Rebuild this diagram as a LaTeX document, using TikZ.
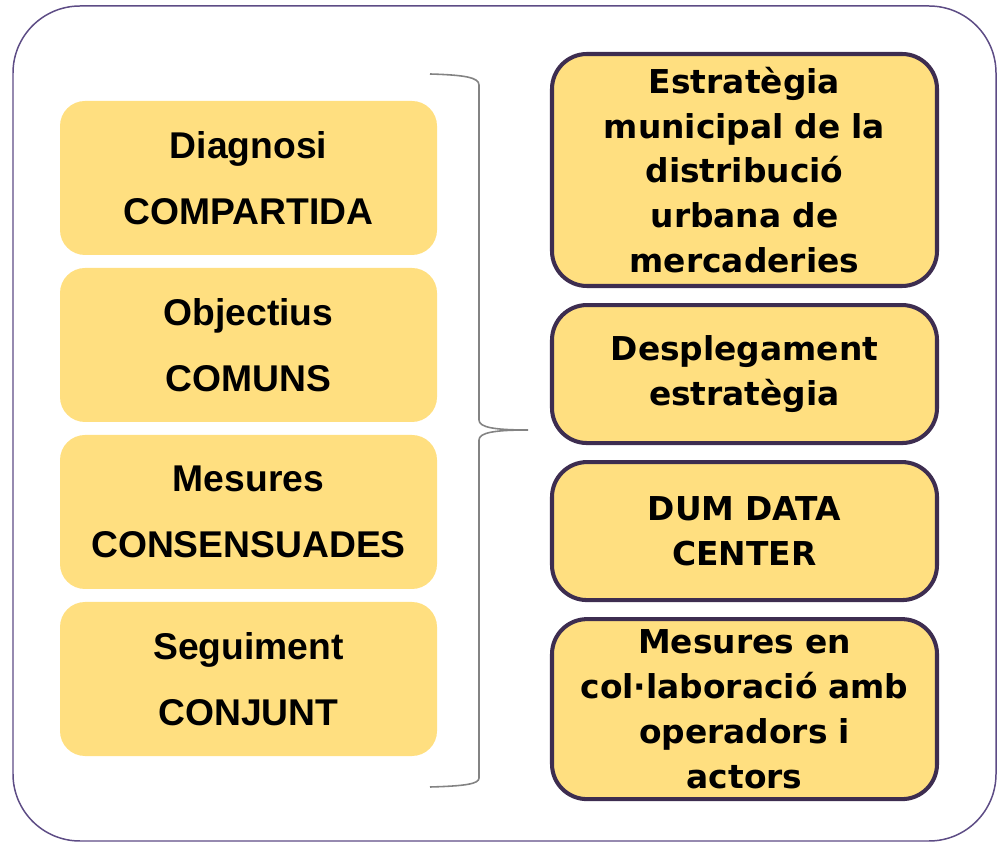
\documentclass[tikz,border=0pt]{standalone}
\usepackage{fontspec}
\setmainfont{Liberation Sans}
\newfontfamily\boxfont{DejaVu Sans}
\usetikzlibrary{positioning}
\definecolor{boxyellow}{HTML}{FFDF80}
\definecolor{boxedge}{HTML}{3D2D50}
\definecolor{framepurple}{HTML}{5D4C85}
\definecolor{bracegray}{HTML}{838383}
\tikzstyle{leftblock} = [rectangle, fill=boxyellow, rounded corners=0.5cm, text width=7.2cm, align=center, minimum width=7.54cm, minimum height=3.08cm, font=\bfseries\fontsize{21.2}{37.4}\selectfont]
\tikzstyle{rightblock} = [rectangle, draw=boxedge, line width=2.3pt, fill=boxyellow, rounded corners=0.7cm, text width=7.3cm, align=center, minimum width=7.70cm, font=\boxfont\bfseries\fontsize{18.7}{25.5}\selectfont]
\tikzstyle{brace} = [draw=bracegray, line width=0.9pt]

\begin{document}
\begin{tikzpicture}[node distance=3.34cm]
	\useasboundingbox (0,0) rectangle (20,-16.84);
	\draw [framepurple, line width=0.85pt, rounded corners=1.34cm] (0.26,-0.12) rectangle (19.92,-16.82);
	% left column
	\node [leftblock] at (4.97,-3.56) (diag) {Diagnosi\\COMPARTIDA};
	\node [leftblock, below of=diag] (obj) {Objectius\\COMUNS};
	\node [leftblock, below of=obj] (mes) {Mesures\\CONSENSUADES};
	\node [leftblock, below of=mes] (seg) {Seguiment\\CONJUNT};
	% right column
	\node [rightblock, minimum height=4.64cm] at (14.89,-3.40) (estrat) {Estratègia\\municipal de la\\distribució\\urbana de\\mercaderies};
	\node [rightblock, minimum height=2.76cm, below=0.30cm of estrat] (despl) {Desplegament\\estratègia};
	\node [rightblock, minimum height=2.76cm, below=0.30cm of despl] (dum) {DUM DATA\\CENTER};
	\node [rightblock, minimum height=3.60cm, below=0.30cm of dum] (collab) {Mesures en\\col·laboració amb\\operadors i\\actors};
	% brace
	\coordinate (braceTop) at (8.60,-1.48);
	\coordinate (braceTip) at (10.56,-8.60);
	\coordinate (braceBot) at (8.60,-15.74);
	\path [brace] (braceTop) .. controls (9.3,-1.50) and (9.58,-1.55) .. (9.58,-1.70) -- (9.58,-8.40)
		.. controls (9.58,-8.55) and (9.9,-8.60) .. (braceTip)
		.. controls (9.9,-8.60) and (9.58,-8.65) .. (9.58,-8.80) -- (9.58,-15.56)
		.. controls (9.58,-15.68) and (9.3,-15.72) .. (braceBot);
\end{tikzpicture}
\end{document}
